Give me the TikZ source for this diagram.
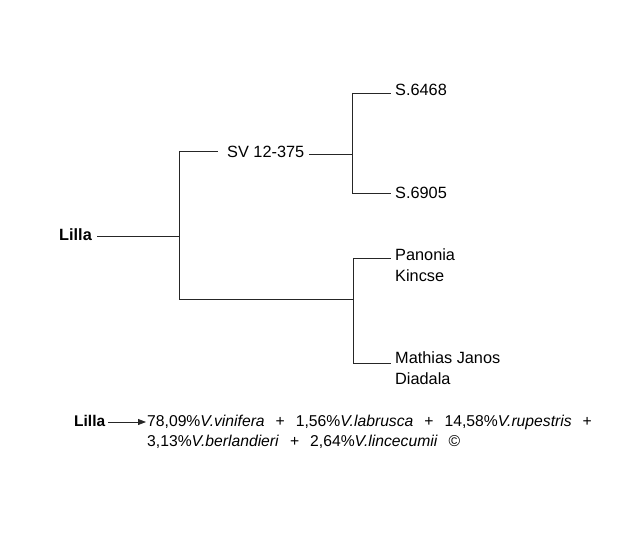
\documentclass[tikz,border=0pt]{standalone}
\usepackage{fontspec}
\setmainfont{Liberation Sans}
\usetikzlibrary{arrows.meta}
\newcommand\widesp{\spaceskip=11pt\relax}
\begin{document}
\begin{tikzpicture}[x=1pt,y=-1pt,
  lbl/.style={inner sep=0pt,anchor=base west,font=\fontsize{16.3}{20.5}\selectfont},
  blbl/.style={inner sep=0pt,anchor=base west,font=\fontsize{15.7}{20}\selectfont},
  ln/.style={line width=0.8pt,black!85}]
\useasboundingbox (0,0) rectangle (640,540);
% nodes
\node[lbl,font=\fontsize{16.3}{20}\selectfont\bfseries] (lilla) at (59,241) {Lilla};
\node[lbl] (sv) at (227,158) {SV 12-375};
\node[lbl] (s1) at (395,96) {S.6468};
\node[lbl] (s2) at (395,199) {S.6905};
\node[lbl,align=left] (pan) at (395,281) {Panonia\\Kincse};
\node[lbl,align=left] (mat) at (395,384) {Mathias Janos\\Diadala};
% junctions
\coordinate (j1) at (179,236);
\coordinate (j1t) at (179,151);
\coordinate (j1b) at (179,299);
\coordinate (svl) at (218,151);
\coordinate (j2) at (352,154);
\coordinate (j2t) at (352,93);
\coordinate (j2b) at (352,193);
\coordinate (s1l) at (391,93);
\coordinate (s2l) at (391,193);
\coordinate (j3) at (353,299);
\coordinate (j3t) at (353,258);
\coordinate (j3b) at (353,363);
\coordinate (panl) at (391,258);
\coordinate (matl) at (391,363);
% connectors
\draw[ln] (97,236) -- (j1);
\draw[ln] (j1t) -- (j1b);
\draw[ln] (j1t) -- (svl);
\draw[ln] (309,154) -- (j2);
\draw[ln] (j2t) -- (j2b);
\draw[ln] (j2t) -- (s1l);
\draw[ln] (j2b) -- (s2l);
\draw[ln] (j1b) -- (j3);
\draw[ln] (j3t) -- (j3b);
\draw[ln] (j3t) -- (panl);
\draw[ln] (j3b) -- (matl);
% bottom formula
\node[blbl,font=\fontsize{15.5}{20}\selectfont\bfseries] (lilla2) at (74,426) {Lilla};
\node[blbl,align=left] (form) at (147,446) {\widesp 78,09\%\textit{V.vinifera} + 1,56\%\textit{V.labrusca} + 14,58\%\textit{V.rupestris} +\\\widesp 3,13\%\textit{V.berlandieri} + 2,64\%\textit{V.lincecumii} ©};
\coordinate (arrs) at (108,422);
\coordinate (arre) at (146,422);
\draw[ln,-{Triangle[length=8pt,width=6pt]}] (arrs) -- (arre);
\end{tikzpicture}
\end{document}
